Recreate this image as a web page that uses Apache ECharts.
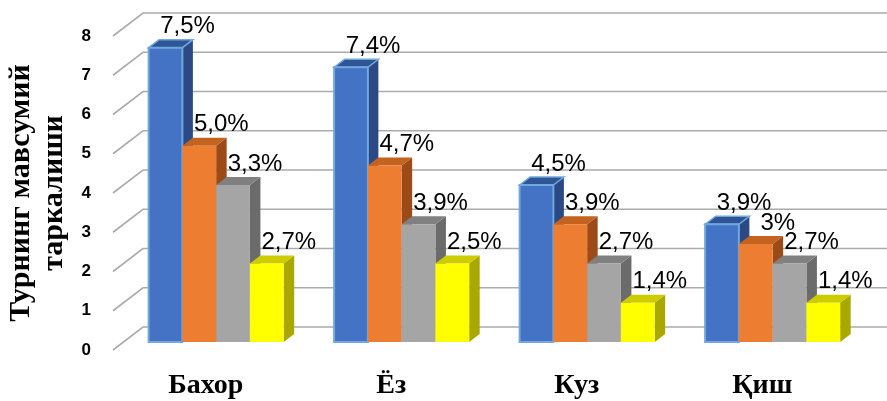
<!DOCTYPE html>
<html>
<head>
<meta charset="utf-8">
<script src="https://cdn.jsdelivr.net/npm/echarts@6/dist/echarts.min.js"></script>
<style>
  html, body { margin: 0; padding: 0; background: #fff; }
  #chart { width: 887px; height: 401px; }
</style>
</head>
<body>
<div id="chart"></div>
<script>
// seasons on the x axis
const categories = ["Бахор", "Ёз", "Куз", "Қиш"];

// bar heights as drawn
const blueValues = [7.5, 7, 4, 3];
const orangeValues = [5, 4.5, 3, 2.5];
const grayValues = [4, 3, 2, 2];
const yellowValues = [2, 2, 1, 1];

// data label texts printed on top of the bars
const blueLabels = ["7,5%", "7,4%", "4,5%", "3,9%"];
const orangeLabels = ["5,0%", "4,7%", "3,9%", "3%"];
const grayLabels = ["3,3%", "3,9%", "2,7%", "2,7%"];
const yellowLabels = ["2,7%", "2,5%", "1,4%", "1,4%"];

// y ticks
const yTicks = [0, 1, 2, 3, 4, 5, 6, 7, 8];

const yTitle = "Турнинг мавсумий\nтаркалиши";

// colours per series: front, top, side
const palette = [
  { front: "#4472C4", top: "#2F5597", side: "#2B4A85", stroke: "#6FA8DC" },
  { front: "#ED7D31", top: "#C4621F", side: "#9C4A17", stroke: null },
  { front: "#A5A5A5", top: "#808080", side: "#6B6B6B", stroke: null },
  { front: "#FFFF00", top: "#CCCC00", side: "#A8A800", stroke: null },
];

const allValues = [blueValues, orangeValues, grayValues, yellowValues];
const allLabels = [blueLabels, orangeLabels, grayLabels, yellowLabels];

// 3d look (pixels)
const WALL_DX = 30, WALL_DY = 23; // floor depth to back wall
const BAR_SHIFT_X = 10.4, BAR_SHIFT_Y = 8; // bars sit a bit behind the front plane
const BAR_DX = 10.5, BAR_DY = 8; // bar depth
const BAR_FRAC = 0.182; // bar width as part of category band

function barGeom(api, j) {
  const i = api.value(0);
  const v = api.value(1);
  const top = api.coord([i, v]);
  const base = api.coord([i, 0]);
  const band = api.size([1, 0])[0];
  const barW = band * BAR_FRAC;
  const x0 = top[0] - (barW * 4) / 2 + j * barW + BAR_SHIFT_X;
  return { x0, barW, yT: top[1] - BAR_SHIFT_Y, yB: base[1] - BAR_SHIFT_Y };
}

function barSeries(j) {
  const c = palette[j];
  return {
    type: "custom",
    clip: false,
    z: 2,
    data: allValues[j].map((v, i) => [i, v]),
    renderItem: (params, api) => {
      const { x0, barW, yT, yB } = barGeom(api, j);
      const x1 = x0 + barW;
      return {
        type: "group",
        children: [
          {
            type: "polygon",
            shape: { points: [[x1, yT], [x1 + BAR_DX, yT - BAR_DY], [x1 + BAR_DX, yB - BAR_DY], [x1, yB]] },
            style: { fill: c.side },
          },
          {
            type: "polygon",
            shape: { points: [[x0, yT], [x0 + BAR_DX, yT - BAR_DY], [x1 + BAR_DX, yT - BAR_DY], [x1, yT]] },
            style: { fill: c.top, stroke: c.stroke, lineWidth: c.stroke ? 1.5 : 0 },
          },
          {
            type: "rect",
            shape: { x: x0, y: yT, width: barW, height: yB - yT },
            style: { fill: c.front, stroke: c.stroke, lineWidth: c.stroke ? 2 : 0 },
          },
        ],
      };
    },
  };
}

function labelSeries(j) {
  return {
    type: "custom",
    clip: false,
    z: 5,
    data: allValues[j].map((v, i) => [i, v]),
    renderItem: (params, api) => {
      const { x0, barW, yT } = barGeom(api, j);
      return {
        type: "text",
        style: {
          x: x0 + barW / 2 + 22,
          y: yT - 21,
          text: allLabels[j][params.dataIndex],
          fill: "#000",
          font: '24px "Liberation Sans", Arial, sans-serif',
          align: "center",
          verticalAlign: "middle",
        },
      };
    },
  };
}

// back wall grid lines with the short diagonal on the left
const wallSeries = {
  type: "custom",
  clip: false,
  z: 1,
  silent: true,
  data: yTicks.map((v) => [0, v]),
  renderItem: (params, api) => {
    const cs = params.coordSys;
    const p = api.coord([0, api.value(1)]);
    return {
      type: "polyline",
      shape: {
        points: [
          [cs.x, p[1]],
          [cs.x + WALL_DX, p[1] - WALL_DY],
          [api.getWidth(), p[1] - WALL_DY],
        ],
      },
      style: { stroke: "#ABABAB", lineWidth: 1.6, fill: null },
    };
  },
};

const chart = echarts.init(document.getElementById("chart"), null, { renderer: "canvas" });

chart.setOption({
  backgroundColor: "#fff",
  animation: false,
  grid: { left: 113, right: 32, top: 36, bottom: 51, outerBoundsMode: "none" },
  xAxis: {
    type: "category",
    data: categories,
    axisLine: { show: false },
    axisTick: { show: false },
    axisLabel: {
      margin: 22,
      fontFamily: '"Liberation Serif", "Times New Roman", serif',
      fontWeight: "bold",
      fontSize: 28,
      color: "#000",
    },
  },
  yAxis: {
    type: "value",
    min: 0,
    max: 8,
    interval: 1,
    splitLine: { show: false },
    axisLine: { show: false },
    axisTick: { show: false },
    axisLabel: {
      margin: 22,
      fontFamily: '"Liberation Sans", Arial, sans-serif',
      fontWeight: "bold",
      fontSize: 17,
      color: "#000",
    },
    name: yTitle,
    nameLocation: "middle",
    nameRotate: 90,
    nameGap: 33,
    nameTextStyle: {
      fontFamily: '"Liberation Serif", "Times New Roman", serif',
      fontWeight: "bold",
      fontSize: 30,
      lineHeight: 33,
      color: "#000",
    },
  },
  series: [
    wallSeries,
    barSeries(0),
    barSeries(1),
    barSeries(2),
    barSeries(3),
    labelSeries(0),
    labelSeries(1),
    labelSeries(2),
    labelSeries(3),
  ],
});
</script>
</body>
</html>
